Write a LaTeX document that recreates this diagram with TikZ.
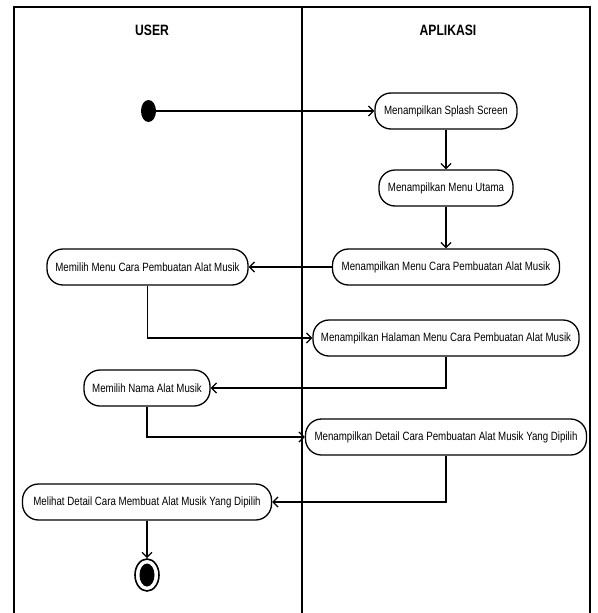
\documentclass[tikz,border=0pt]{standalone}
\usepackage{fontspec}
\setmainfont{Liberation Sans}[FakeStretch=0.81]
\usetikzlibrary{arrows.meta,shapes.geometric}

\tikzset{every picture/.style={line width=0.75pt}}

\begin{document}
\begin{tikzpicture}[x=1pt,y=1pt,yscale=-1,
  act/.style={draw, line width=1.3pt, rounded corners=16pt, minimum height=36pt, inner sep=0pt, font=\fontsize{12}{14}\selectfont},
  lane/.style={font=\bfseries\fontsize{15}{17}\selectfont},
  flow/.style={line width=1.3pt, -{Straight Barb[length=5pt,width=10pt,line width=1.3pt]}}]
\useasboundingbox (0,0) rectangle (597,613);

%Swimlane frame
\draw [line width=2pt] (14,613) -- (14,7) -- (590,7) -- (590,613) ;
\draw [line width=1.6pt] (302,7) -- (302,613) ;

% Text Node
\node (user) [lane] at (152,30) {USER};
% Text Node
\node (app) [lane] at (448,30) {APLIKASI};

%Initial node
\node (start) [ellipse, fill, minimum width=15pt, minimum height=22pt, inner sep=0pt] at (148.5,111) {};

%Activities
\node (splash) [act, minimum width=142pt] at (446,111) {Menampilkan Splash Screen};
\node (utama) [act, minimum width=134pt] at (446,188) {Menampilkan Menu Utama};
\node (mcara) [act, minimum width=227pt] at (446,267) {Menampilkan Menu Cara Pembuatan Alat Musik};
\node (pcara) [act, minimum width=201pt] at (147.5,267) {Memilih Menu Cara Pembuatan Alat Musik};
\node (halaman) [act, minimum width=266pt] at (446,338) {Menampilkan Halaman Menu Cara Pembuatan Alat Musik};
\node (pnama) [act, minimum width=126pt] at (147,388) {Memilih Nama Alat Musik};
\node (detail) [act, minimum width=281pt] at (446,437) {Menampilkan Detail Cara Pembuatan Alat Musik Yang Dipilih};
\node (melihat) [act, minimum width=249pt] at (147,502) {Melihat Detail Cara Membuat Alat Musik Yang Dipilih};

%Final node
\node (end) [ellipse, draw, line width=1.6pt, minimum width=24pt, minimum height=32pt, inner sep=0pt] at (147,575) {};
\node (endin) [ellipse, fill, minimum width=15pt, minimum height=23pt, inner sep=0pt] at (end) {};

%Flows
\draw [flow] (start) -- (splash) ;
\draw [flow] (splash) -- (utama) ;
\draw [flow] (utama) -- (mcara) ;
\draw [flow] (mcara) -- (pcara) ;
\draw [flow] (pcara.south) |- (halaman.west) ;
\draw [flow] (halaman.south) |- (pnama.east) ;
\draw [flow] (pnama.south) |- (detail.west) ;
\draw [flow] (detail.south) |- (melihat.east) ;
\draw [flow] (melihat) -- (end) ;

\end{tikzpicture}
\end{document}
